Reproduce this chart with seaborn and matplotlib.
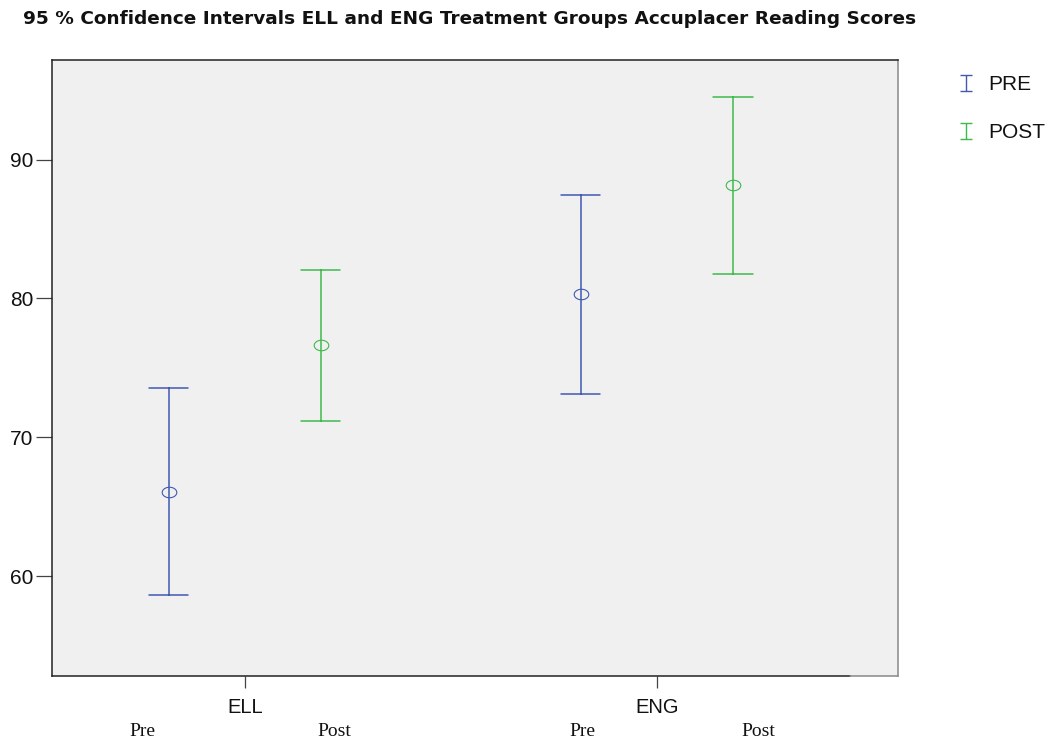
import numpy as np
import pandas as pd
import matplotlib
matplotlib.use("Agg")
import matplotlib.pyplot as plt
import matplotlib.transforms as mtransforms
from matplotlib.path import Path
from matplotlib.lines import Line2D
import seaborn as sns

# ---- data ----
groups = ["ELL", "ELL", "ENG", "ENG"]
times = ["PRE", "POST", "PRE", "POST"]
means = [66.07, 76.62, 80.30, 88.15]
lower = [58.63, 71.19, 73.13, 81.78]
upper = [73.55, 82.07, 87.47, 94.51]
group_order = ["ELL", "ENG"]
time_order = ["PRE", "POST"]
yticks = [60, 70, 80, 90]
sub_labels = ["Pre", "Post", "Pre", "Post"]
title = "95 % Confidence Intervals ELL and ENG Treatment Groups Accuplacer Reading Scores"

palette = {"PRE": "#4159b1", "POST": "#3dba4b"}

# long table: each cell holds (lower, mean, upper); median -> mean, min/max -> CI
rows = []
for g, t, m, lo, hi in zip(groups, times, means, lower, upper):
    for v in (lo, m, hi):
        rows.append({"group": g, "time": t, "score": v})
df = pd.DataFrame(rows)

sns.set_theme(style="ticks")
plt.rcParams["font.family"] = ["Liberation Sans", "DejaVu Sans"]

fig = plt.figure(figsize=(10.5, 7.42), dpi=100)
ax = fig.add_axes([52 / 1050, 1 - 676 / 742, 846 / 1050, 616 / 742])

tt = np.linspace(0, 2 * np.pi, 61)
ellipse = Path(np.column_stack([np.cos(tt), 0.72 * np.sin(tt)]), closed=True)

sns.pointplot(
    data=df, x="group", y="score", hue="time",
    order=group_order, hue_order=time_order,
    estimator="median", errorbar=lambda v: (np.min(v), np.max(v)),
    dodge=0.369, palette=palette,
    markers=[ellipse, ellipse], linestyles="none", capsize=0.095,
    err_kws={"linewidth": 1.1, "linestyle": "-"},
    markerfacecolor="none", markersize=10.5, markeredgewidth=0.8,
    legend=False, ax=ax,
)

xlim = (-0.468, 1.585)
ylim = (52.8, 97.18)
ax.set_xlim(*xlim)
ax.set_ylim(*ylim)
ax.set_yticks(yticks)
ax.set_xlabel("")
ax.set_ylabel("")
ax.set_facecolor("#f0f0f0")

ax.tick_params(axis="y", length=11.5, width=0.9, pad=2, labelsize=15,
               color="#444444", labelcolor="#111111")
ax.tick_params(axis="x", length=8.6, width=0.9, pad=7, labelsize=14.5,
               color="#444444", labelcolor="#111111")

for side in ["left", "bottom", "top"]:
    ax.spines[side].set_color("#222222")
    ax.spines[side].set_linewidth(1.1)
ax.spines["right"].set_color("#888888")
ax.spines["right"].set_linewidth(1.1)
# bottom axis line is dark up to the last category region, then grey
frac = (850 - 52) / 846
ax.spines["bottom"].set_bounds(xlim[0], xlim[0] + frac * (xlim[1] - xlim[0]))
ax.axhline(ylim[0], xmin=frac, xmax=1, color="#888888", lw=1.1, clip_on=False, zorder=3)

# Pre / Post labels under the category labels
sub_x = [-0.2476, 0.218, 0.818, 1.245]
trans = mtransforms.blended_transform_factory(ax.transData, fig.transFigure)
for x, lab in zip(sub_x, sub_labels):
    ax.text(x, 1 - 731 / 742, lab, transform=trans, ha="center", va="center",
            fontsize=14, family=["Liberation Serif", "DejaVu Serif"], color="#111111",
            clip_on=False)

fig.text(470 / 1050, 1 - 19 / 742, title, ha="center", va="center",
         fontsize=13.3, fontweight="bold", color="#111111", family=["DejaVu Sans"])

# legend with I-beam glyphs
ibeam = Path([(-0.35, 0.5), (0.35, 0.5), (0, 0.5), (0, -0.5), (-0.35, -0.5), (0.35, -0.5)],
             [Path.MOVETO, Path.LINETO, Path.MOVETO, Path.LINETO, Path.MOVETO, Path.LINETO])
handles = [Line2D([], [], marker=ibeam, linestyle="none", color=palette[t],
                  markersize=12, markeredgewidth=1.0, label=t) for t in time_order]
fig.legend(handles=handles, loc="upper left", bbox_to_anchor=(956 / 1050, 1 - 75 / 742),
           frameon=False, fontsize=15, handlelength=1.0, handletextpad=0.57,
           labelspacing=1.4, borderpad=0, borderaxespad=0, labelcolor="#111111")

fig.savefig("out.png", dpi=100)
